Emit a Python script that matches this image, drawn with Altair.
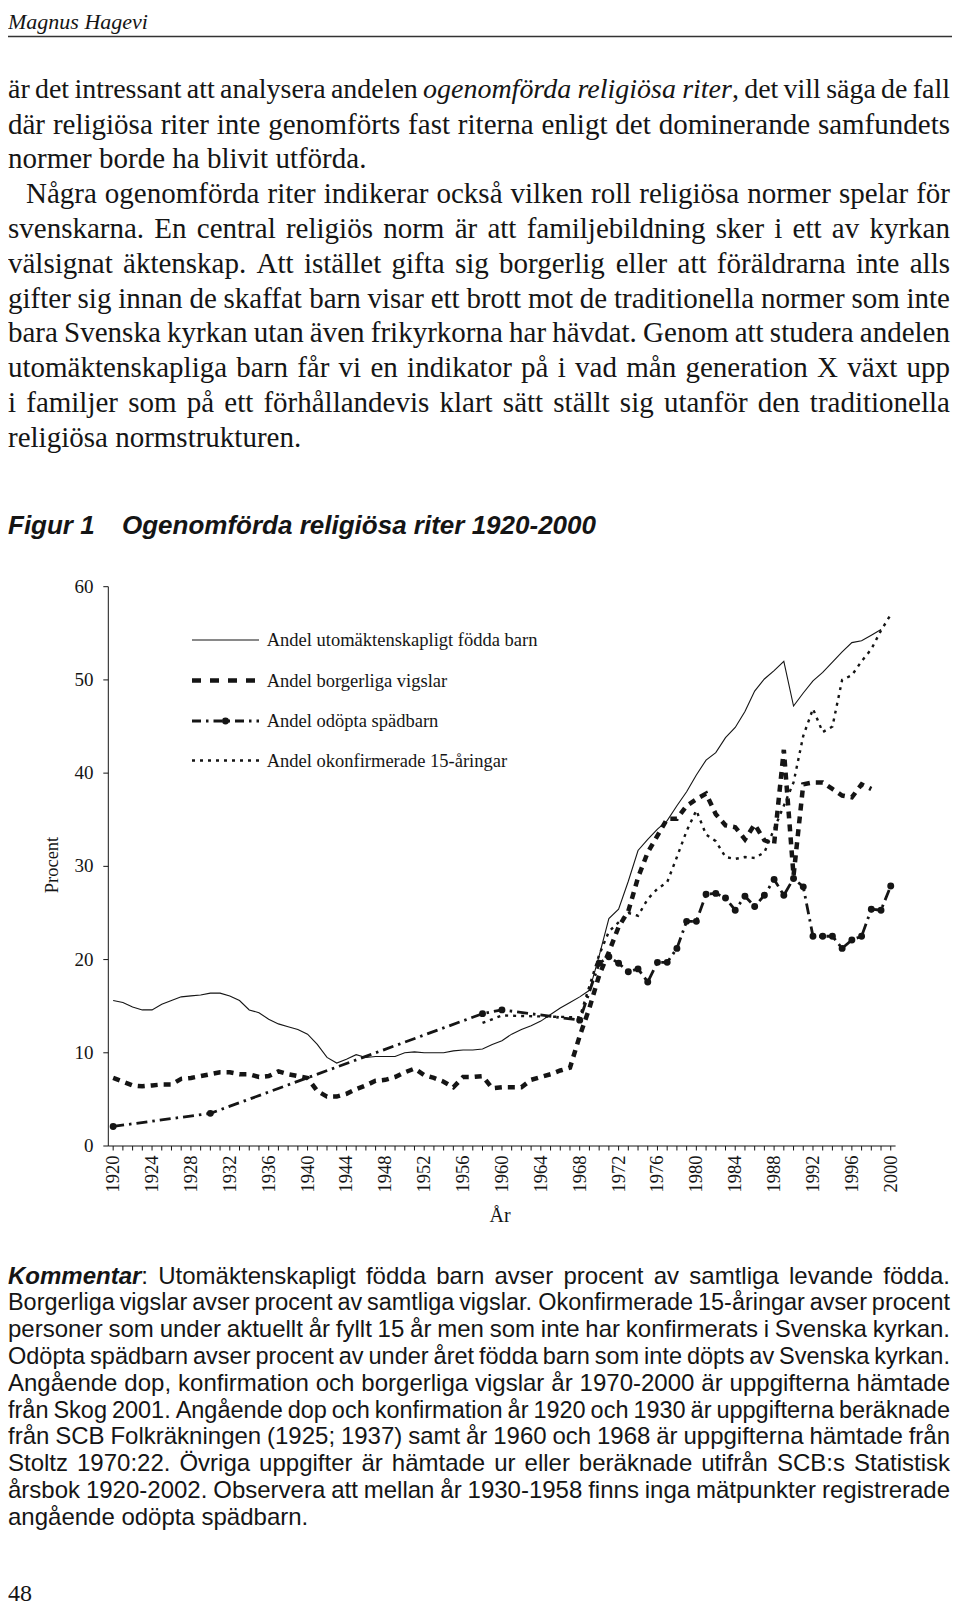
import altair as alt
import pandas as pd

# ---------------- data ----------------
utom_years = list(range(1920, 2000))
utom_values = [15.6, 15.4, 14.9, 14.6, 14.6, 15.2, 15.6, 16.0, 16.1, 16.2,
               16.4, 16.4, 16.1, 15.6, 14.6, 14.3, 13.6, 13.1, 12.8, 12.5,
               12.0, 10.9, 9.5, 8.9, 9.3, 9.8, 9.5, 9.6, 9.6, 9.6,
               10.0, 10.1, 10.0, 10.0, 10.0, 10.2, 10.3, 10.3, 10.4, 10.9,
               11.3, 12.0, 12.5, 12.9, 13.4, 14.1, 14.8, 15.4, 16.0, 16.7,
               20.4, 24.4, 25.4, 28.4, 31.7, 32.9, 34.0, 34.9, 36.5, 38.0,
               39.8, 41.4, 42.2, 43.8, 44.9, 46.6, 48.8, 50.1, 51.0, 52.0,
               47.2, 48.6, 49.9, 50.8, 51.9, 53.0, 54.0, 54.2, 54.8, 55.4]

borg_years = list(range(1920, 1999))
borg_values = [7.3, 6.9, 6.5, 6.4, 6.5, 6.6, 6.6, 7.2, 7.3, 7.5,
               7.7, 7.9, 7.9, 7.7, 7.7, 7.4, 7.5, 8.0, 7.7, 7.5,
               7.3, 5.9, 5.3, 5.3, 5.6, 6.1, 6.5, 7.0, 7.1, 7.4,
               7.9, 8.3, 7.6, 7.3, 6.9, 6.3, 7.4, 7.4, 7.5, 6.2,
               6.3, 6.3, 6.3, 7.1, 7.4, 7.7, 8.1, 8.4, 11.8, 14.8,
               18.3, 20.8, 23.5, 25.2, 28.8, 31.5, 33.3, 35.1, 35.1, 36.5,
               37.2, 37.8, 35.6, 34.4, 34.2, 32.9, 34.5, 32.8, 32.4, 42.5,
               29.0, 38.8, 39.0, 39.0, 38.3, 37.6, 37.4, 38.8, 38.3]

odop_years = [1920, 1930, 1958, 1960, 1968] + list(range(1970, 2001))
odop_values = [2.1, 3.5, 14.2, 14.6, 13.5,
               19.6, 20.3, 19.6, 18.7, 19.0, 17.6, 19.7, 19.7, 21.2, 24.1,
               24.1, 27.0, 27.1, 26.6, 25.3, 26.8, 25.7, 26.9, 28.6, 26.9,
               28.7, 27.8, 22.5, 22.5, 22.5, 21.2, 22.1, 22.5, 25.4, 25.3,
               27.9]

okon_years = [1958, 1960, 1968] + list(range(1970, 2001))
okon_values = [13.2, 14.0, 13.8,
               20.5, 23.0, 24.0, 25.0, 24.7, 26.5, 27.6, 28.3, 31.0, 33.8,
               36.0, 33.4, 32.7, 31.0, 30.8, 31.0, 30.9, 31.5, 34.0, 36.5,
               39.0, 44.0, 46.9, 44.4, 45.0, 50.0, 50.5, 52.0, 53.3, 55.3,
               57.0]

legend_labels = ["Andel utomäktenskapligt födda barn",
                 "Andel borgerliga vigslar",
                 "Andel odöpta spädbarn",
                 "Andel okonfirmerade 15-åringar"]

y_ticks = [0, 10, 20, 30, 40, 50, 60]
x_ticks = list(range(1920, 2001))
x_label_years = [y for y in x_ticks if y % 4 == 0]
x_domain = [1919.5, 2000.5]
y_domain = [0, 60]

header_text = "Magnus Hagevi"
title_label = "Figur 1"
title_text = "Ogenomförda religiösa riter 1920-2000"
x_title = "År"
y_title = "Procent"
page_number = "48"

paragraph_lines = [
    "är det intressant att analysera andelen *ogenomförda religiösa riter*, det vill säga de fall",
    "där religiösa riter inte genomförts fast riterna enligt det dominerande samfundets",
    "normer borde ha blivit utförda.",
    "Några ogenomförda riter indikerar också vilken roll religiösa normer spelar för",
    "svenskarna. En central religiös norm är att familjebildning sker i ett av kyrkan",
    "välsignat äktenskap. Att istället gifta sig borgerlig eller att föräldrarna inte alls",
    "gifter sig innan de skaffat barn visar ett brott mot de traditionella normer som inte",
    "bara Svenska kyrkan utan även frikyrkorna har hävdat. Genom att studera andelen",
    "utomäktenskapliga barn får vi en indikator på i vad mån generation X växt upp",
    "i familjer som på ett förhållandevis klart sätt ställt sig utanför den traditionella",
    "religiösa normstrukturen.",
]
paragraph_justify = [True, True, False, True, True, True, True, True, True, True, False]
paragraph_indent = [0, 0, 0, 1, 0, 0, 0, 0, 0, 0, 0]

comment_lines = [
    "*Kommentar*: Utomäktenskapligt födda barn avser procent av samtliga levande födda.",
    "Borgerliga vigslar avser procent av samtliga vigslar. Okonfirmerade 15-åringar avser procent",
    "personer som under aktuellt år fyllt 15 år men som inte har konfirmerats i Svenska kyrkan.",
    "Odöpta spädbarn avser procent av under året födda barn som inte döpts av Svenska kyrkan.",
    "Angående dop, konfirmation och borgerliga vigslar år 1970-2000 är uppgifterna hämtade",
    "från Skog 2001. Angående dop och konfirmation år 1920 och 1930 är uppgifterna beräknade",
    "från SCB Folkräkningen (1925; 1937) samt år 1960 och 1968 är uppgifterna hämtade från",
    "Stoltz 1970:22. Övriga uppgifter är hämtade ur eller beräknade utifrån SCB:s Statistisk",
    "årsbok 1920-2002. Observera att mellan år 1930-1958 finns inga mätpunkter registrerade",
    "angående odöpta spädbarn.",
]
comment_justify = [True] * 9 + [False]

# ---------------- approximate font metrics (per 1000 em) ----------------
LOW = "abcdefghijklmnopqrstuvwxyz"
UP = "ABCDEFGHIJKLMNOPQRSTUVWXYZ"
ACC = {'ä': 'a', 'å': 'a', 'ö': 'o', 'é': 'e', 'Ä': 'A', 'Å': 'A', 'Ö': 'O'}


def make_table(lower, upper, extra):
    t = dict(zip(LOW, lower))
    t.update(dict(zip(UP, upper)))
    t.update(extra)
    return t


times_extra = {' ': 250, ',': 250, '.': 250, '-': 333, ':': 278, ';': 278, '(': 333, ')': 333}
times_extra.update({d: 500 for d in "0123456789"})
arial_extra = {' ': 278, ',': 278, '.': 278, '-': 333, ':': 278, ';': 278, '(': 333, ')': 333}
arial_extra.update({d: 556 for d in "0123456789"})

TIMES_N = make_table([444, 500, 444, 500, 444, 333, 500, 500, 278, 278, 500, 278, 778, 500, 500, 500, 500, 333, 389, 278, 500, 500, 722, 500, 500, 444],
                     [722, 667, 667, 722, 611, 556, 722, 722, 333, 389, 722, 611, 889, 722, 722, 556, 722, 667, 556, 611, 722, 722, 944, 722, 722, 611],
                     times_extra)
TIMES_I = make_table([500, 500, 444, 500, 444, 278, 500, 500, 278, 278, 444, 278, 722, 500, 500, 500, 500, 389, 389, 278, 500, 444, 667, 444, 444, 389],
                     [611, 611, 667, 722, 611, 611, 722, 722, 333, 444, 667, 556, 833, 667, 722, 611, 722, 611, 500, 556, 722, 611, 833, 611, 556, 556],
                     times_extra)
ARIAL_N = make_table([556, 556, 500, 556, 556, 278, 556, 556, 222, 222, 500, 222, 833, 556, 556, 556, 556, 333, 500, 278, 556, 500, 722, 500, 500, 500],
                     [667, 667, 722, 722, 667, 611, 778, 722, 278, 500, 667, 556, 833, 722, 778, 667, 778, 722, 667, 611, 722, 667, 944, 667, 667, 611],
                     arial_extra)
ARIAL_B = make_table([556, 611, 556, 611, 556, 333, 611, 611, 278, 278, 556, 278, 889, 611, 611, 611, 611, 389, 556, 333, 611, 556, 778, 556, 556, 500],
                     [722, 722, 722, 722, 667, 611, 778, 722, 278, 556, 722, 611, 833, 722, 778, 667, 778, 722, 667, 611, 722, 667, 944, 667, 667, 611],
                     dict(arial_extra, **{':': 333}))


def text_width(s, table, size):
    return sum(table.get(ACC.get(c, c), 500) for c in s) * size / 1000.0


def parse_words(line, base, other):
    words, style = [], base
    for w in line.split(' '):
        segs, cur = [], ''
        for ch in w:
            if ch == '*':
                if cur:
                    segs.append((cur, style))
                    cur = ''
                style = other if style == base else base
            else:
                cur += ch
        if cur:
            segs.append((cur, style))
        words.append(segs)
    return words


def layout(lines, justify, indents, x0, x1, y0, dy, size, tables, base, other, indent_px):
    rows = {base: [], other: []}
    for i, line in enumerate(lines):
        y = y0 + i * dy
        words = parse_words(line, base, other)
        start = x0 + indents[i] * indent_px
        avail = x1 - start
        fs = size
        widths = [sum(text_width(t, tables[s], fs) for t, s in w) for w in words]
        min_space = 0.75 * text_width(' ', tables[base], fs)
        tight = sum(widths) + (len(words) - 1) * min_space
        if tight > avail:
            fs = size * avail / tight
            widths = [sum(text_width(t, tables[s], fs) for t, s in w) for w in words]
        space = text_width(' ', tables[base], fs)
        if justify[i] and len(words) > 1:
            gap = (avail - sum(widths)) / (len(words) - 1)
        else:
            gap = space
        x = start
        for w, wd in zip(words, widths):
            cx = x
            for t, s in w:
                rows[s].append({'t': t, 'px': cx, 'py': y, 'fs': fs})
                cx += text_width(t, tables[s], fs)
            x += wd + gap
    return rows


PARA_SIZE = 29
COMM_SIZE = 24
para_rows = layout(paragraph_lines, paragraph_justify, paragraph_indent, 0, 942, 81.8, 34.8,
                   PARA_SIZE, {'n': TIMES_N, 'i': TIMES_I}, 'n', 'i', 18)
comm_rows = layout(comment_lines, comment_justify, [0] * len(comment_lines), 0, 942, 1268.6, 26.8,
                   COMM_SIZE, {'n': ARIAL_N, 'bi': ARIAL_B}, 'n', 'bi', 0)

INK = '#151515'
SERIF = 'Liberation Serif'
SANS = 'Liberation Sans'


def text_layer(rows, font, style='normal', weight='normal'):
    return alt.Chart(alt.Data(values=rows)).mark_text(
        align='left', baseline='middle', font=font,
        fontStyle=style, fontWeight=weight, color=INK
    ).encode(
        text='t:N',
        x=alt.X('px:Q', scale=None, axis=None),
        y=alt.Y('py:Q', scale=None, axis=None),
        size=alt.Size('fs:Q', scale=None, legend=None),
    )


def single_text(txt, x, y, font, size, style='normal', weight='normal', align='left',
                baseline='middle', angle=0):
    return alt.Chart(alt.Data(values=[{'t': txt}])).mark_text(
        align=align, baseline=baseline, font=font, fontSize=size, angle=angle,
        fontStyle=style, fontWeight=weight, color=INK
    ).encode(text='t:N', x=alt.value(x), y=alt.value(y))


# ---------------- chart of the four series ----------------
utom_df = pd.DataFrame({'year': utom_years, 'value': utom_values})
borg_df = pd.DataFrame({'year': borg_years, 'value': borg_values})
odop_df = pd.DataFrame({'year': odop_years, 'value': odop_values})
okon_df = pd.DataFrame({'year': okon_years, 'value': okon_values})

xscale = alt.Scale(domain=x_domain, range=[100.3, 887.6], nice=False, zero=False)
yscale = alt.Scale(domain=y_domain, range=[1138, 578.7], nice=False, zero=False)


def X(f):
    return alt.X(f, scale=xscale, axis=None)


def Y(f):
    return alt.Y(f, scale=yscale, axis=None)


solid = alt.Chart(utom_df).mark_line(color=INK, strokeWidth=1.1).encode(x=X('year:Q'), y=Y('value:Q'))
okon = alt.Chart(okon_df).mark_line(color=INK, strokeWidth=2.4, strokeDash=[3, 5]).encode(x=X('year:Q'), y=Y('value:Q'))
borg = alt.Chart(borg_df).mark_line(color=INK, strokeWidth=4.5, strokeDash=[7, 6]).encode(x=X('year:Q'), y=Y('value:Q'))
odop = alt.Chart(odop_df).mark_line(color=INK, strokeWidth=2.8, strokeDash=[11, 5, 2.5, 5]).encode(x=X('year:Q'), y=Y('value:Q'))
odop_pts = alt.Chart(odop_df).mark_circle(color=INK, size=48, opacity=1).encode(x=X('year:Q'), y=Y('value:Q'))

# axes drawn through the same scales
x_axis_line = alt.Chart(alt.Data(values=[{'a': x_domain[0], 'b': x_domain[1], 'v': y_domain[0]}])).mark_rule(
    color=INK, strokeWidth=1).encode(x=X('a:Q'), x2='b:Q', y=Y('v:Q'))
y_axis_line = alt.Chart(alt.Data(values=[{'a': x_domain[0], 'v0': y_domain[0], 'v1': y_domain[1]}])).mark_rule(
    color=INK, strokeWidth=1).encode(x=X('a:Q'), y=Y('v0:Q'), y2='v1:Q')
x_tick_df = pd.DataFrame({'year': x_ticks, 'zero': [y_domain[0]] * len(x_ticks)})
x_tick_marks = alt.Chart(x_tick_df).mark_rule(color=INK, strokeWidth=1).encode(
    x=X('year:Q'), y=Y('zero:Q'), y2=alt.value(1142.5))
x_lab_df = pd.DataFrame({'year': x_label_years, 'lab': [str(v) for v in x_label_years]})
x_labels = alt.Chart(x_lab_df).mark_text(
    angle=270, align='right', baseline='middle', font=SERIF, fontSize=18.5, color=INK
).encode(x=X('year:Q'), y=alt.value(1147.5), text='lab:N')
y_tick_df = pd.DataFrame({'v': y_ticks, 'a': [x_domain[0]] * len(y_ticks), 'lab': [str(v) for v in y_ticks]})
y_tick_marks = alt.Chart(y_tick_df).mark_rule(color=INK, strokeWidth=1).encode(
    x=X('a:Q'), x2=alt.value(95.3), y=Y('v:Q'))
y_labels = alt.Chart(y_tick_df).mark_text(
    align='right', baseline='middle', font=SERIF, fontSize=19, color=INK
).encode(x=alt.value(85.5), y=Y('v:Q'), text='lab:N')

plot = alt.layer(x_axis_line, y_axis_line, x_tick_marks, y_tick_marks, x_labels, y_labels,
                 solid, okon, borg, odop, odop_pts)

x_title_mark = single_text(x_title, 492, 1208, SERIF, 20, align='center')
y_title_mark = single_text(y_title, 43.6, 857, SERIF, 18.5, align='center', angle=270)

# ---------------- manual legend ----------------
leg_y = [632, 672.5, 713, 752.5]
leg_x0, leg_x1, leg_tx = 184, 251, 258.7
leg_styles = [dict(strokeWidth=1.1), dict(strokeWidth=4.5, strokeDash=[9, 9]),
              dict(strokeWidth=2.8, strokeDash=[9, 5, 2.5, 5]), dict(strokeWidth=2.4, strokeDash=[3, 5])]
legend_layers = []
for i, lab in enumerate(legend_labels):
    legend_layers.append(
        alt.Chart(alt.Data(values=[{}])).mark_rule(color=INK, **leg_styles[i]).encode(
            x=alt.value(leg_x0), x2=alt.value(leg_x1), y=alt.value(leg_y[i])))
    legend_layers.append(single_text(lab, leg_tx, leg_y[i], SERIF, 18.5))
legend_layers.append(
    alt.Chart(alt.Data(values=[{}])).mark_circle(color=INK, size=48, opacity=1).encode(
        x=alt.value((leg_x0 + leg_x1) / 2), y=alt.value(leg_y[2])))

# ---------------- page text ----------------
header = single_text(header_text, 0, 21, SERIF, 22, style='italic', baseline='alphabetic')
header_rule = alt.Chart(alt.Data(values=[{}])).mark_rule(color='#333333', strokeWidth=1.6).encode(
    x=alt.value(0), x2=alt.value(944), y=alt.value(28.5))
fig_label = single_text(title_label, 0, 518, SANS, 26, style='italic', weight='bold')
fig_title = single_text(title_text, 114, 518, SANS, 26, style='italic', weight='bold')
page_no = single_text(page_number, 0, 1586, SERIF, 24)

para_n = text_layer(para_rows['n'], SERIF)
para_i = text_layer(para_rows['i'], SERIF, style='italic')
comm_n = text_layer(comm_rows['n'], SANS)
comm_b = text_layer(comm_rows['bi'], SANS, style='italic', weight='bold')

chart = alt.layer(
    plot, x_title_mark, y_title_mark, header, header_rule, para_n, para_i, fig_label, fig_title,
    comm_n, comm_b, page_no, *legend_layers
).resolve_scale(x='independent', y='independent', size='independent').properties(
    width=944, height=1600, padding=0,
    autosize=alt.AutoSizeParams(type='none'),
    background='white'
).configure_view(stroke=None)

chart.save("out.html", embed_options={"renderer": "svg", "actions": False})
